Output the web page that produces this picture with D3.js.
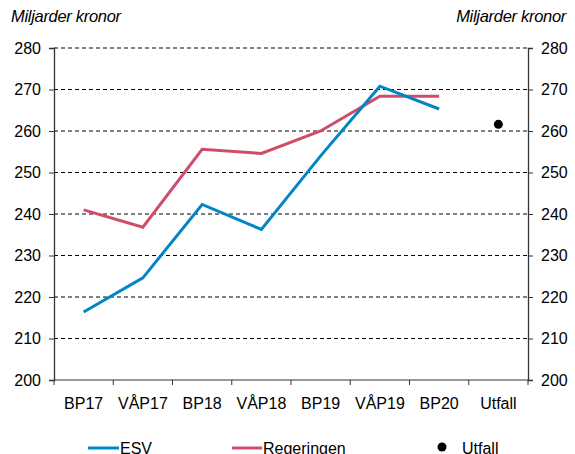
<!DOCTYPE html>
<html>
<head>
<meta charset="utf-8">
<script src="https://cdn.jsdelivr.net/npm/d3@7"></script>
<style>
  body { margin: 0; background: #fff; }
  text { font-family: "Liberation Sans", Arial, sans-serif; fill: #000; }
</style>
</head>
<body>
<div id="chart"></div>
<script>
const categories = ["BP17", "VÅP17", "BP18", "VÅP18", "BP19", "VÅP19", "BP20", "Utfall"];
const esv = [216.4, 224.6, 242.3, 236.3, 254.0, 270.8, 265.3];
const regeringen = [241.0, 236.8, 255.6, 254.6, 260.0, 268.4, 268.4];
const utfall = [{ cat: "Utfall", value: 261.6 }];
const yTicks = [200, 210, 220, 230, 240, 250, 260, 270, 280];

let width = 575,
    height = 454;

const margin = { left: 54, right: 47, top: 48, bottom: 74 };

const svg = d3.select("#chart")
      .append("svg")
      .attr("width", width)
      .attr("height", height);

const x = d3.scaleBand()
  .domain(categories)
  .range([margin.left, width - margin.right]);

const y = d3.scaleLinear()
  .domain([200, 280])
  .range([height - margin.bottom, margin.top]);

// dashed grid
svg.append("g")
  .selectAll("line")
  .data(yTicks.slice(1))
  .enter().append("line")
  .attr("x1", margin.left)
  .attr("x2", width - margin.right)
  .attr("y1", function (d) { return y(d); })
  .attr("y2", function (d) { return y(d); })
  .attr("stroke", "#000")
  .attr("stroke-width", 1)
  .attr("stroke-dasharray", "4,3");

// left and right axes
const leftAxis = svg.append("g")
  .attr("transform", "translate(" + margin.left + ",0)")
  .call(d3.axisLeft(y).tickValues(yTicks).tickSize(5).tickPadding(8));

const rightAxis = svg.append("g")
  .attr("transform", "translate(" + (width - margin.right) + ",0)")
  .call(d3.axisRight(y).tickValues(yTicks).tickSize(5).tickPadding(8));

// bottom axis, ticks at band edges
const bottom = svg.append("g")
  .attr("transform", "translate(0," + y(200) + ")");

bottom.append("line")
  .attr("x1", margin.left)
  .attr("x2", width - margin.right)
  .attr("stroke", "#333");

bottom.selectAll(".tk")
  .data(categories.concat([null]))
  .enter().append("line")
  .attr("class", "tk")
  .attr("x1", function (d, i) { return margin.left + i * x.step(); })
  .attr("x2", function (d, i) { return margin.left + i * x.step(); })
  .attr("y1", 0)
  .attr("y2", 5)
  .attr("stroke", "#333");

bottom.selectAll(".lbl")
  .data(categories)
  .enter().append("text")
  .attr("class", "lbl")
  .attr("x", function (d) { return x(d) + x.bandwidth() / 2; })
  .attr("y", 29)
  .attr("text-anchor", "middle")
  .style("font-size", "16px")
  .text(function (d) { return d; });

[leftAxis, rightAxis].forEach(function (ax) {
  ax.select(".domain").attr("stroke", "#333").attr("stroke-width", 1.3);
  ax.selectAll(".tick line").attr("stroke", "#333");
  ax.selectAll(".tick text")
    .style("font-size", "16px")
    .style("font-family", "'Liberation Sans', Arial, sans-serif")
    .attr("fill", "#000");
});

// unit labels
svg.append("text")
  .attr("x", 11)
  .attr("y", 22)
  .style("font-size", "16.5px")
  .style("font-style", "italic")
  .style("letter-spacing", "-0.3px")
  .text("Miljarder kronor");

svg.append("text")
  .attr("x", 566)
  .attr("y", 22)
  .attr("text-anchor", "end")
  .style("font-size", "16.5px")
  .style("font-style", "italic")
  .style("letter-spacing", "-0.3px")
  .text("Miljarder kronor");

const line = d3.line()
  .x(function (d, i) { return x(categories[i]) + x.bandwidth() / 2; })
  .y(function (d) { return y(d); });

svg.append("path")
  .datum(regeringen)
  .attr("d", line)
  .attr("fill", "none")
  .attr("stroke", "#cf4d6a")
  .attr("stroke-width", 3);

svg.append("path")
  .datum(esv)
  .attr("d", line)
  .attr("fill", "none")
  .attr("stroke", "#0085c7")
  .attr("stroke-width", 3);

svg.selectAll(".utfall")
  .data(utfall)
  .enter().append("circle")
  .attr("class", "utfall")
  .attr("cx", function (d) { return x(d.cat) + x.bandwidth() / 2; })
  .attr("cy", function (d) { return y(d.value); })
  .attr("r", 4.5)
  .attr("fill", "#000");

// legend
const legendY = 448;
const legend = svg.append("g");

legend.append("line")
  .attr("x1", 88).attr("x2", 119)
  .attr("y1", legendY).attr("y2", legendY)
  .attr("stroke", "#0085c7").attr("stroke-width", 3);
legend.append("text")
  .attr("x", 120).attr("y", legendY + 6)
  .style("font-size", "16px")
  .text("ESV");

legend.append("line")
  .attr("x1", 232).attr("x2", 262)
  .attr("y1", legendY).attr("y2", legendY)
  .attr("stroke", "#cf4d6a").attr("stroke-width", 3);
legend.append("text")
  .attr("x", 263).attr("y", legendY + 6)
  .style("font-size", "16px")
  .text("Regeringen");

legend.append("circle")
  .attr("cx", 442).attr("cy", legendY - 1)
  .attr("r", 4.5)
  .attr("fill", "#000");
legend.append("text")
  .attr("x", 462).attr("y", legendY + 6)
  .style("font-size", "16px")
  .text("Utfall");
</script>
</body>
</html>
